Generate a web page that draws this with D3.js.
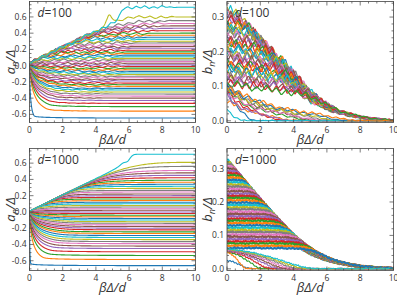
<!DOCTYPE html>
<html>
<head>
<meta charset="utf-8">
<script src="https://cdn.jsdelivr.net/npm/d3@7"></script>
<style>
  body { margin: 0; background: #fff; }
  svg { display: block; }
  text { font-family: "Open Sans", sans-serif; fill: #333; }
</style>
</head>
<body>
<svg id="chart" width="397" height="295"></svg>
<script>
const COLORS = d3.schemeCategory10;

// ---- a_n panels ----
// final level of every curve (ascending), read off the right-hand edge
const aLevels100 = [
  -0.645, -0.56, -0.505, -0.465, -0.43, -0.40, -0.375, -0.35, -0.325, -0.30,
  -0.28, -0.255, -0.235, -0.215, -0.19, -0.17, -0.15, -0.13, -0.11, -0.09,
  -0.07, -0.05, -0.03, -0.01, 0.01, 0.03, 0.05, 0.07, 0.09, 0.11,
  0.13, 0.15, 0.17, 0.19, 0.215, 0.235, 0.255, 0.28, 0.30, 0.325,
  0.35, 0.375, 0.40, 0.43, 0.46, 0.49, 0.52, 0.555, 0.60, 0.72
];
const aLevels1000 = [
  -0.66, -0.585, -0.535, -0.49, -0.45, -0.42, -0.39, -0.365, -0.34, -0.315,
  -0.29, -0.265, -0.245, -0.22, -0.20, -0.18, -0.16, -0.14, -0.12, -0.10,
  -0.08, -0.06, -0.04, -0.02, 0.0, 0.02, 0.04, 0.06, 0.08, 0.10,
  0.12, 0.14, 0.16, 0.18, 0.20, 0.22, 0.245, 0.265, 0.29, 0.315,
  0.34, 0.365, 0.39, 0.42, 0.45, 0.48, 0.51, 0.56, 0.61, 0.71
];
// level -> x at which a curve has settled
const aSettle100 = [[-0.645, 0.4], [-0.56, 1.6], [-0.5, 1.9], [-0.4, 2.4], [-0.3, 2.8],
  [-0.15, 3.3], [0, 3.6], [0.1, 3.2], [0.2, 3.6], [0.3, 4.2], [0.4, 5.0], [0.52, 6.0], [0.6, 6.5]];
const aSettle1000 = [[-0.66, 0.1], [-0.585, 1.2], [-0.535, 1.6], [-0.45, 2.0], [-0.3, 2.8],
  [-0.15, 3.6], [0, 4.2], [0.1, 3.4], [0.2, 3.5], [0.3, 4.3], [0.4, 5.0], [0.51, 6.0], [0.61, 6.8]];
// the rising ridge the upper curves ride on
const aRidge100 = [[0, 0.03], [10, 1.03]];
const aRidge1000 = [[0, 0.01], [10, 1.01]];
// how a curve closes in on its level: (fraction of settle x, fraction of the way)
const approach = [[0, 0], [0.04, 0.3], [0.1, 0.52], [0.22, 0.72], [0.4, 0.87], [0.65, 0.96], [1, 1]];
// wiggle size on the d=100 curves, by level
const aWiggle100 = [[-0.65, 0], [-0.45, 0.004], [-0.2, 0.01], [0, 0.015], [0.3, 0.022], [0.6, 0.022]];
// the curves that break away from the ridge at the top
const aTop100 = [[0, 0.03], [2, 0.23], [4, 0.43], [5.0, 0.52], [5.35, 0.56], [5.5, 0.65],
  [5.65, 0.72], [6, 0.72], [10, 0.72]];
const aSecond100 = [[0, 0.03], [2, 0.23], [4, 0.42], [4.6, 0.48], [4.75, 0.63], [4.9, 0.62],
  [5.1, 0.54], [5.4, 0.55], [5.8, 0.6], [6.5, 0.6], [10, 0.6]];
const aTop1000 = [[0, 0.01], [2, 0.21], [4, 0.41], [5.2, 0.53], [5.5, 0.58], [5.65, 0.61],
  [5.9, 0.61], [6.05, 0.66], [6.25, 0.71], [6.6, 0.71], [10, 0.71]];

// ---- b_n panels ----
// upper edge of the bundle
const bEdge100 = [[0, 0.335], [1, 0.29], [2, 0.24], [3, 0.19], [4, 0.135], [5, 0.085],
  [6, 0.045], [7, 0.025], [8, 0.013], [9, 0.006], [10, 0.003]];
const bEdge1000 = [[0, 0.33], [1, 0.272], [2, 0.213], [3, 0.157], [4, 0.103], [5, 0.062],
  [6, 0.034], [7, 0.018], [8, 0.009], [9, 0.004], [10, 0.002]];
// slow sag of the d=100 curves before they reach the edge (multiplier)
const bDrift100 = [[0, 1], [2, 0.93], [4, 0.8], [6, 0.6], [10, 0.4]];
const bDrift1000 = [[0, 1], [10, 1]];
// starting levels of the curves that run to the edge
const bLevels100 = [
  0.105, 0.11, 0.116, 0.122, 0.128, 0.134, 0.14, 0.146, 0.152, 0.158,
  0.164, 0.17, 0.176, 0.182, 0.188, 0.194, 0.2, 0.206, 0.212, 0.218,
  0.224, 0.23, 0.236, 0.242, 0.248, 0.254, 0.26, 0.266, 0.272, 0.278,
  0.284, 0.29, 0.296, 0.302, 0.308, 0.314, 0.32, 0.326
];
const bLevels1000 = [
  0.062, 0.069, 0.076, 0.082, 0.089, 0.096, 0.103, 0.110, 0.116, 0.123,
  0.130, 0.137, 0.144, 0.150, 0.157, 0.164, 0.171, 0.178, 0.184, 0.191,
  0.198, 0.205, 0.212, 0.218, 0.225, 0.232, 0.239, 0.246, 0.252, 0.259,
  0.266, 0.273, 0.280, 0.286, 0.293, 0.300, 0.307, 0.314, 0.320, 0.327
];
// curves that die out early: [start level, x where they hit zero]
const bFade100 = [[0.1, 1.4], [0.06, 3.8], [0.085, 4.6], [0.09, 3.0], [0.07, 3.4], [0.095, 5.0],
  [0.08, 5.4], [0.1, 5.8], [0.09, 6.4], [0.035, 0.9], [0.1, 6.8], [0.1, 7.4]];
const bFade1000 = [[0.025, 1.3], [0.05, 1.1], [0.052, 2.0], [0.054, 2.5], [0.055, 3.0],
  [0.056, 3.4], [0.057, 3.8], [0.058, 4.2], [0.059, 4.6], [0.06, 5.0]];
const fadeShape100 = [[0, 1], [0.2, 0.6], [0.45, 0.35], [0.75, 0.2], [1, 0]];
const fadeShape1000 = [[0, 1], [0.3, 0.85], [0.6, 0.5], [0.85, 0.15], [1, 0]];
// after reaching the edge: x past the hit point, fraction of the edge
const tailDx = [0, 0.6, 1.5, 3, 5, 8];
const tailF = [1, 0.98, 0.9, 0.72, 0.5, 0.3];

// fixed wiggle pattern
const jiggle = [0.5, -0.9, 0.8, -0.4, 1.0, -0.7, 0.3, -1.0, 0.6, -0.5, 0.9, -0.8,
  0.4, -0.6, 1.0, -0.3, 0.7, -0.9, 0.2, -0.7, 0.8, -0.6, 0.5, -1.0];
// per-curve stretch of the wiggle, so neighbours do not move in step
const jiggleStretch = [1.0, 0.78, 1.22, 0.9, 1.1, 0.84, 1.3, 0.95];

const xTicks = [0, 2, 4, 6, 8, 10];
const aTicks = [-0.6, -0.4, -0.2, 0.0, 0.2, 0.4, 0.6];
const bTicks = [0.0, 0.1, 0.2, 0.3];

const svg = d3.select('#chart');

const panels = [
  { kind: 'a', d: '100', left: 29.5, right: 195.5, top: 1.5, bottom: 122.5, yDom: [-0.70, 0.79] },
  { kind: 'b', d: '100', left: 227, right: 393.5, top: 1.5, bottom: 122.5, yDom: [-0.005, 0.345] },
  { kind: 'a', d: '1000', left: 29.5, right: 195.5, top: 148.5, bottom: 270.5, yDom: [-0.72, 0.78] },
  { kind: 'b', d: '1000', left: 227, right: 393.5, top: 148.5, bottom: 270.5, yDom: [-0.005, 0.36] },
];

const lin = pts => d3.scaleLinear().domain(pts.map(d => d[0])).range(pts.map(d => d[1])).clamp(true);

function smooth(keys, n) {
  const ix = d3.interpolateBasis(keys.map(d => d[0]));
  const iy = d3.interpolateBasis(keys.map(d => d[1]));
  return d3.range(n + 1).map(k => [ix(k / n), iy(k / n)]);
}

function jig(xv, i, step) {
  const st = step * jiggleStretch[i % jiggleStretch.length];
  const off = (i * 7) % jiggle.length;
  const k = xv / st, k0 = Math.floor(k), f = k - k0;
  const a = jiggle[(k0 + off) % jiggle.length];
  const b = jiggle[(k0 + 1 + off) % jiggle.length];
  return a + (b - a) * f;
}

function aKeys(v, tau, ridge, y0) {
  const pts = approach.map(([f, g]) => {
    const xv = f * tau;
    let yv = y0 + (v - y0) * g;
    if (v > y0) yv = Math.min(yv, ridge(xv));
    return [xv, yv];
  });
  pts.push([10, v]);
  return pts;
}

function aCurves(p) {
  const big = p.d === '1000';
  const levels = big ? aLevels1000 : aLevels100;
  const settle = lin(big ? aSettle1000 : aSettle100);
  const ridge = lin(big ? aRidge1000 : aRidge100);
  const wig = lin(aWiggle100);
  const y0 = big ? 0.005 : 0.02;
  return levels.map((v, i) => {
    let keys;
    if (big && i === levels.length - 1) keys = aTop1000;
    else if (!big && i === levels.length - 1) keys = aTop100;
    else if (!big && i === levels.length - 2) keys = aSecond100;
    else keys = aKeys(v, settle(v), ridge, y0);
    let pts = smooth(keys, 240);
    if (!big) {
      const tau = settle(v), amp = wig(v);
      pts = pts.map(([xv, yv]) => {
        let taper = xv < 0.25 ? xv / 0.25 : 1;
        if (xv > tau + 1.5) taper = Math.max(0, 1 - (xv - tau - 1.5));
        return [xv, yv + amp * taper * jig(xv, i, 0.33)];
      });
    }
    return { pts, color: COLORS[i % 10], width: 1.1 };
  });
}

function bCurves(p) {
  const big = p.d === '1000';
  const edge = lin(big ? bEdge1000 : bEdge100);
  const drift = lin(big ? bDrift1000 : bDrift100);
  const levels = big ? bLevels1000 : bLevels100;
  const fades = big ? bFade1000 : bFade100;
  const fadeShape = big ? fadeShape1000 : fadeShape100;
  const tail = lin(tailDx.map((dx, j) => [dx, tailF[j]]));
  const out = [];
  const nf = fades.length;

  const addNoise = (pts, i) => pts.map(([xv, yv]) => {
    if (big) return [xv, Math.max(0, yv + 0.0025 * jig(xv, i, 0.09))];
    const amp = Math.min(0.018, yv * 0.12 + 0.002);
    return [xv, Math.max(0, yv + amp * jig(xv, i, 0.27))];
  });

  // curves that reach the edge, highest first so lower ones sit on top
  for (let j = levels.length - 1; j >= 0; j--) {
    const s = levels[j], i = nf + j;
    let xh = 0;
    while (xh < 10 && s * drift(xh) < edge(xh)) xh += 0.02;
    const keys = [[0, s], [xh / 2, s * drift(xh / 2)], [xh, edge(xh)]];
    for (let k = 1; k < tailDx.length; k++) {
      const xv = xh + tailDx[k];
      if (xv >= 10) break;
      keys.push([xv, edge(xv) * tail(tailDx[k])]);
    }
    keys.push([10, edge(10) * tail(10 - xh)]);
    out.push({ pts: addNoise(smooth(keys, 240), i), color: COLORS[i % 10], width: big ? 2.1 : 1.2 });
  }
  // curves that fade out early
  fades.forEach(([s, xe], i) => {
    const keys = fadeShape.map(([f, g]) => [f * xe, s * g]);
    keys.push([Math.min(10, xe + 1), 0], [10, 0]);
    out.push({ pts: addNoise(smooth(keys, 200), i), color: COLORS[i % 10], width: 1.1 });
  });
  return out;
}

const fmt = v => (Math.abs(v) < 1e-9 ? 0 : v).toFixed(1);

panels.forEach((p, pi) => {
  const g = svg.append('g');
  const x = d3.scaleLinear().domain([0, 10]).range([p.left, p.right]);
  const y = d3.scaleLinear().domain(p.yDom).range([p.bottom, p.top]);

  const clipId = 'clip' + pi;
  svg.append('clipPath').attr('id', clipId)
    .append('rect')
      .attr('x', p.left).attr('y', p.top)
      .attr('width', p.right - p.left).attr('height', p.bottom - p.top);

  const curves = p.kind === 'a' ? aCurves(p) : bCurves(p);
  const line = d3.line().x(d => x(d[0])).y(d => y(d[1]));

  g.append('g').attr('clip-path', `url(#${clipId})`)
    .selectAll('path')
    .data(curves)
    .join('path')
      .attr('d', d => line(d.pts))
      .attr('fill', 'none')
      .attr('stroke', d => d.color)
      .attr('stroke-width', d => d.width)
      .attr('stroke-linejoin', 'round');

  // frame with inward ticks on all four sides
  g.append('rect')
    .attr('x', p.left).attr('y', p.top)
    .attr('width', p.right - p.left).attr('height', p.bottom - p.top)
    .attr('fill', 'none').attr('stroke', '#444').attr('stroke-width', 0.8);

  const yTicks = p.kind === 'a' ? aTicks : bTicks;
  const yMinorStep = p.kind === 'a' ? 0.05 : 0.02;
  const xMinor = d3.range(0, 10.001, 0.5);
  const yMinor = d3.range(Math.ceil(p.yDom[0] / yMinorStep) * yMinorStep, p.yDom[1], yMinorStep);

  const tickG = g.append('g').attr('stroke', '#444').attr('stroke-width', 0.7);
  xMinor.forEach(v => {
    const major = Math.abs(v / 2 - Math.round(v / 2)) < 1e-6;
    const len = major ? 4 : 2;
    tickG.append('line').attr('x1', x(v)).attr('x2', x(v)).attr('y1', p.bottom).attr('y2', p.bottom - len);
    tickG.append('line').attr('x1', x(v)).attr('x2', x(v)).attr('y1', p.top).attr('y2', p.top + len);
  });
  yMinor.forEach(v => {
    const major = yTicks.some(t => Math.abs(t - v) < 1e-6);
    const len = major ? 4 : 2;
    tickG.append('line').attr('y1', y(v)).attr('y2', y(v)).attr('x1', p.left).attr('x2', p.left + len);
    tickG.append('line').attr('y1', y(v)).attr('y2', y(v)).attr('x1', p.right).attr('x2', p.right - len);
  });

  g.selectAll('.xl').data(xTicks).join('text')
    .attr('x', d => x(d)).attr('y', p.bottom + 10)
    .attr('text-anchor', 'middle').attr('font-size', 8.5)
    .text(d => d);
  g.selectAll('.yl').data(yTicks).join('text')
    .attr('x', p.left - 3).attr('y', d => y(d) + 3)
    .attr('text-anchor', 'end').attr('font-size', 8.5)
    .text(fmt);

  // axis titles
  g.append('text')
    .attr('x', (p.left + p.right) / 2).attr('y', p.bottom + 21)
    .attr('text-anchor', 'middle').attr('font-size', 13).attr('font-style', 'italic')
    .text('βΔ/d');

  const yt = g.append('text')
    .attr('transform', `translate(${p.left - 15},${(p.top + p.bottom) / 2}) rotate(-90)`)
    .attr('text-anchor', 'middle').attr('font-size', 13).attr('font-style', 'italic');
  yt.append('tspan').text(p.kind);
  yt.append('tspan').attr('font-size', 9).attr('dy', 3).text('n');
  yt.append('tspan').attr('dy', -3).text('/Δ');

  const dl = g.append('text')
    .attr('x', p.left + 8).attr('y', p.top + 15)
    .attr('font-size', 12);
  dl.append('tspan').attr('font-style', 'italic').text('d');
  dl.append('tspan').text('=' + p.d);
});
</script>
</body>
</html>
